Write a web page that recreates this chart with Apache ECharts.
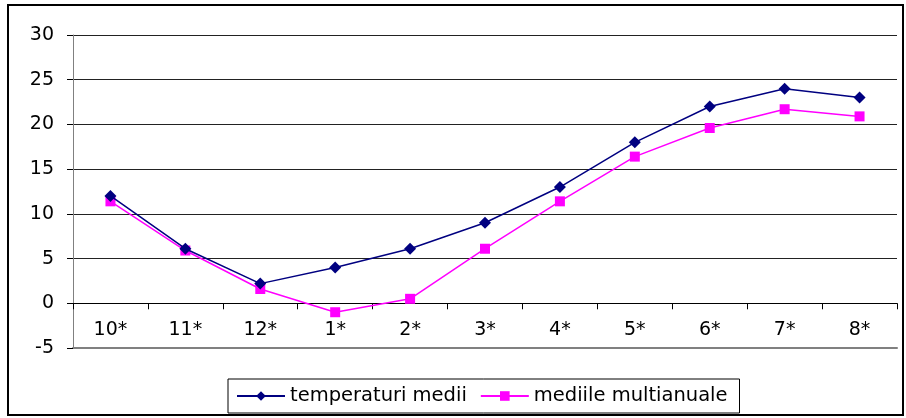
<!DOCTYPE html>
<html><head><meta charset="utf-8">
<script src="https://cdn.jsdelivr.net/npm/echarts@6/dist/echarts.min.js"></script>
<style>html,body{margin:0;padding:0;background:#fff}#c{width:906px;height:418px}</style>
</head><body><div id="c"></div>
<script>
const categories = ['10*','11*','12*','1*','2*','3*','4*','5*','6*','7*','8*'];
const temperaturiMedii = [12, 6.1, 2.2, 4.0, 6.1, 9.0, 13.0, 18.0, 22.0, 24.0, 23.0];
const mediileMultianuale = [11.4, 5.9, 1.6, -1.0, 0.5, 6.1, 11.4, 16.4, 19.6, 21.7, 20.9];
const seriesNames = ['temperaturi medii', 'mediile multianuale'];
const yTicks = {min: -5, max: 30, interval: 5};

const font = 'DejaVu Sans';
const chart = echarts.init(document.getElementById('c'));
// zero line position inside main grid (top 35, height 313)
const gridTop = 35, gridH = 313;
const zeroY = gridTop + gridH * (yTicks.max - 0) / (yTicks.max - yTicks.min);
chart.setOption({
  animation: false,
  backgroundColor: '#fff',
  grid: [
    {left: 73, right: 9, top: gridTop, height: gridH, containLabel: false},
    {left: 73, right: 9, top: zeroY, height: gridTop + gridH - zeroY, containLabel: false}
  ],
  legend: {
    left: 228, top: 379,
    padding: [7, 12, 7, 8],
    borderColor: '#000', borderWidth: 1, borderRadius: 0,
    itemWidth: 48, itemHeight: 12, itemGap: 13,
    textStyle: {fontFamily: font, fontSize: 19.5, color: '#000'},
    data: seriesNames
  },
  xAxis: [{
    gridIndex: 0, type: 'category', data: categories, boundaryGap: true, position: 'bottom',
    axisLine: {onZero: false, lineStyle: {color: '#808080', width: 2}},
    axisTick: {show: false}, axisLabel: {show: false}, splitLine: {show: false}
  }, {
    gridIndex: 1, type: 'category', data: categories, boundaryGap: true, position: 'top',
    axisLine: {onZero: false, lineStyle: {color: '#000', width: 1}},
    axisTick: {show: true, inside: true, length: 6, lineStyle: {color: '#000'}},
    axisLabel: {inside: true, margin: 17, fontFamily: font, fontSize: 19, color: '#000'},
    splitLine: {show: false}
  }],
  yAxis: [{
    gridIndex: 0, type: 'value', min: yTicks.min, max: yTicks.max, interval: yTicks.interval,
    axisLine: {show: true, lineStyle: {color: '#808080', width: 1}},
    axisTick: {show: true, length: 6, lineStyle: {color: '#000'}},
    axisLabel: {fontFamily: font, fontSize: 19, color: '#000', margin: 19},
    splitLine: {show: true, lineStyle: {color: '#222', width: 1}}
  }, {
    gridIndex: 1, type: 'value', show: false, min: 0, max: 1
  }],
  series: [{
    name: seriesNames[0], type: 'line', data: temperaturiMedii,
    xAxisIndex: 0, yAxisIndex: 0,
    symbol: 'diamond', symbolSize: 12, z: 5,
    lineStyle: {color: '#000080', width: 1.5},
    itemStyle: {color: '#000080'}
  }, {
    name: seriesNames[1], type: 'line', data: mediileMultianuale,
    xAxisIndex: 0, yAxisIndex: 0,
    symbol: 'rect', symbolSize: 10, z: 4,
    lineStyle: {color: '#ff00ff', width: 1.5},
    itemStyle: {color: '#ff00ff'}
  }],
  graphic: [{
    type: 'rect', shape: {x: 8, y: 5, width: 895, height: 410},
    style: {fill: 'none', stroke: '#000', lineWidth: 2}, silent: true
  }]
});
</script></body></html>
